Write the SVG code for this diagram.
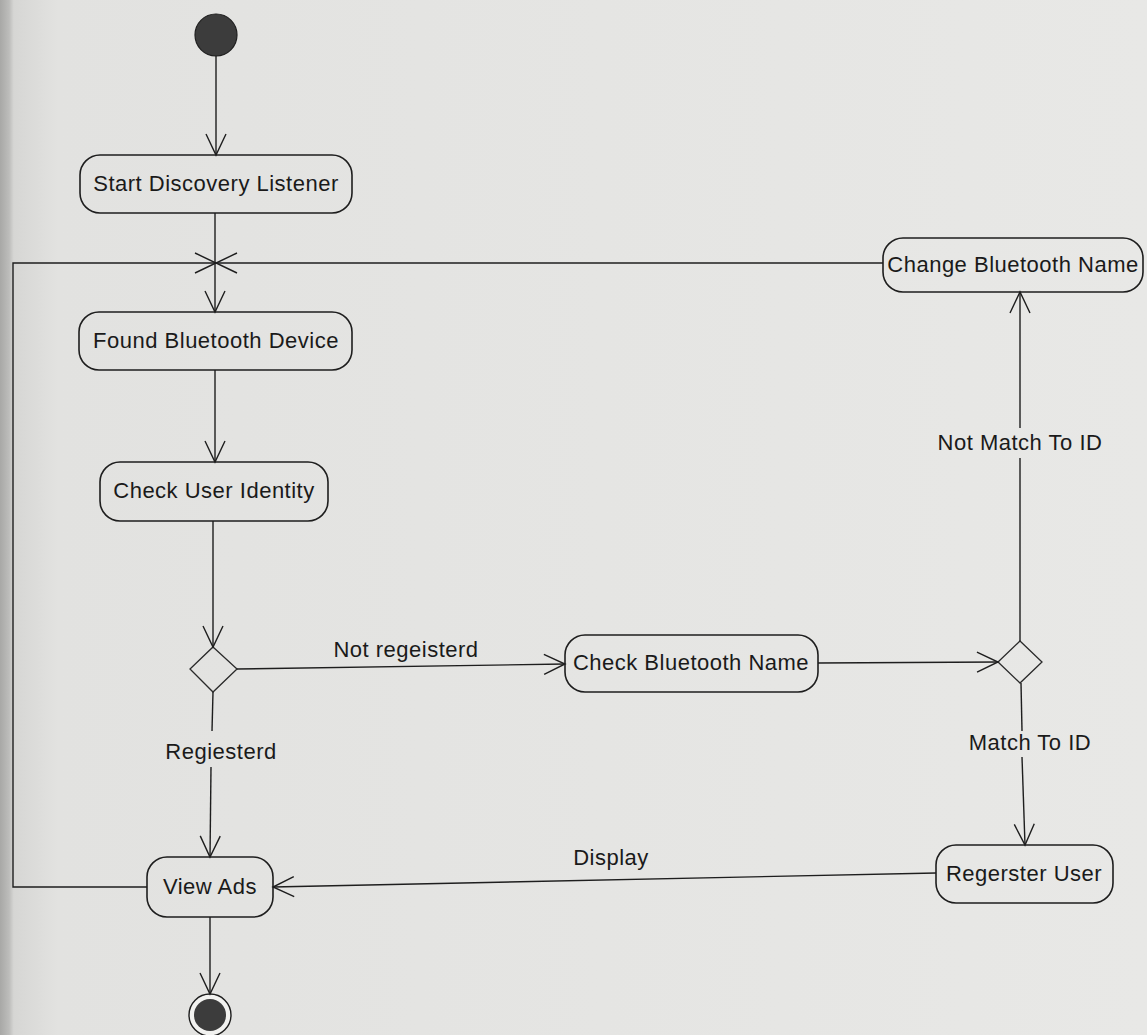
<svg xmlns="http://www.w3.org/2000/svg" width="1147" height="1035" viewBox="0 0 1147 1035">
  <defs>
    <linearGradient id="page" x1="0" y1="0" x2="1" y2="0">
      <stop offset="0" stop-color="#a8a8a6"/>
      <stop offset="0.008" stop-color="#bdbdbb"/>
      <stop offset="0.012" stop-color="#d6d6d4"/>
      <stop offset="0.05" stop-color="#e2e2e0"/>
      <stop offset="1" stop-color="#e8e8e6"/>
    </linearGradient>
    <marker id="open" viewBox="0 0 24 24" markerWidth="24" markerHeight="24" refX="22" refY="12" orient="auto" markerUnits="userSpaceOnUse">
      <path d="M1,2 L22,12 L1,22" fill="none" stroke="#1e1e1e" stroke-width="1.4"/>
    </marker>
  </defs>
  <style>
    .act rect { fill: none; stroke: #1e1e1e; stroke-width: 1.6; }
    .act text, .lbl { font-family: "Liberation Sans", Arial, sans-serif; font-size: 22px; letter-spacing: 0.5px; fill: #1a1a1a; text-anchor: middle; }
    .dec polygon { fill: none; stroke: #2a2a2a; stroke-width: 1.3; }
    #connectors path, #connectors line { fill: none; stroke: #1e1e1e; stroke-width: 1.4; }
  </style>

  <rect x="0" y="0" width="1147" height="1035" fill="url(#page)"/>

  <!-- initial and final states -->
  <g id="start">
    <circle cx="216" cy="35" r="21" fill="#3c3c3c" stroke="#1e1e1e" stroke-width="1.2"/>
  </g>
  <g id="end">
    <circle cx="210" cy="1015" r="21" fill="#f2f2f0" stroke="#1e1e1e" stroke-width="1.4"/>
    <circle cx="210" cy="1015" r="16" fill="#3c3c3c"/>
  </g>

  <!-- activities -->
  <g id="startDiscovery" class="act">
    <rect x="80" y="155" width="272" height="58" rx="20"/>
    <text x="216" y="191">Start Discovery Listener</text>
  </g>
  <g id="foundDevice" class="act">
    <rect x="79" y="312" width="273" height="58" rx="20"/>
    <text x="216" y="348">Found Bluetooth Device</text>
  </g>
  <g id="checkIdentity" class="act">
    <rect x="100" y="462" width="228" height="59" rx="20"/>
    <text x="214" y="498">Check User Identity</text>
  </g>
  <g id="viewAds" class="act">
    <rect x="147" y="857" width="126" height="60" rx="20"/>
    <text x="210" y="894">View Ads</text>
  </g>
  <g id="checkName" class="act">
    <rect x="565" y="635" width="253" height="57" rx="20"/>
    <text x="691" y="670">Check Bluetooth Name</text>
  </g>
  <g id="changeName" class="act">
    <rect x="883" y="238" width="260" height="54" rx="20"/>
    <text x="1013" y="272">Change Bluetooth Name</text>
  </g>
  <g id="registerUser" class="act">
    <rect x="936" y="845" width="177" height="58" rx="20"/>
    <text x="1024" y="881">Regerster User</text>
  </g>

  <!-- decisions -->
  <g id="identityDecision" class="dec">
    <polygon points="213,647 237,669 213,692 190,669"/>
  </g>
  <g id="nameDecision" class="dec">
    <polygon points="1020,641 1042,662 1020,683 998,662"/>
  </g>

  <!-- flows -->
  <g id="connectors">
    <line x1="216" y1="56" x2="216" y2="155" marker-end="url(#open)"/>
    <line x1="215" y1="213" x2="215" y2="312" marker-end="url(#open)"/>
    <path d="M147,887 L13,887 L13,263 L216,263" marker-end="url(#open)"/>
    <line x1="883" y1="263" x2="216" y2="263" marker-end="url(#open)"/>
    <line x1="215" y1="370" x2="215" y2="462" marker-end="url(#open)"/>
    <line x1="213" y1="521" x2="213" y2="647" marker-end="url(#open)"/>
    <line x1="237" y1="669" x2="565" y2="664" marker-end="url(#open)"/>
    <line x1="213" y1="692" x2="212" y2="731"/>
    <line x1="211" y1="767" x2="210" y2="857" marker-end="url(#open)"/>
    <line x1="818" y1="663" x2="998" y2="662" marker-end="url(#open)"/>
    <line x1="1020" y1="641" x2="1020" y2="458"/>
    <line x1="1020" y1="428" x2="1020" y2="292" marker-end="url(#open)"/>
    <line x1="1021" y1="683" x2="1022" y2="731"/>
    <line x1="1022" y1="757" x2="1025" y2="845" marker-end="url(#open)"/>
    <line x1="936" y1="873" x2="273" y2="887" marker-end="url(#open)"/>
    <line x1="210" y1="917" x2="210" y2="994" marker-end="url(#open)"/>
  </g>

  <!-- guard labels -->
  <g id="labels">
    <text class="lbl" x="406" y="657">Not regeisterd</text>
    <text class="lbl" x="221" y="759">Regiesterd</text>
    <text class="lbl" x="1020" y="450">Not Match To ID</text>
    <text class="lbl" x="1030" y="750">Match To ID</text>
    <text class="lbl" x="611" y="865">Display</text>
  </g>
</svg>
